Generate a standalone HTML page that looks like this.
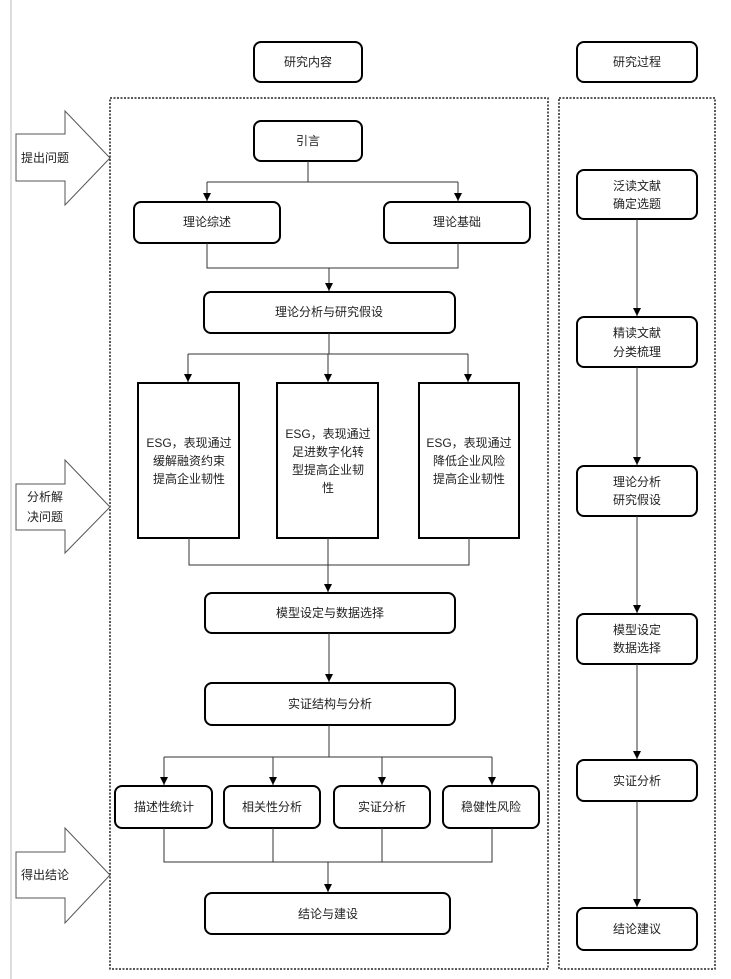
<!DOCTYPE html>
<html><head><meta charset="utf-8"><style>
html,body{margin:0;padding:0;background:#fff;}
svg{display:block;}
text{font-family:"Liberation Sans","Noto Sans CJK SC",sans-serif;font-size:12px;fill:#222;text-anchor:middle;dominant-baseline:central;}
.b{fill:#fff;stroke:#000;stroke-width:2;}
.l{fill:none;stroke:#333;stroke-width:1;}
.d{fill:none;stroke:#222;stroke-width:1.5;stroke-dasharray:2,1.5;}
.ar{fill:#fff;stroke:#555;stroke-width:1;}
</style></head><body>
<svg width="731" height="979" viewBox="0 0 731 979" xmlns="http://www.w3.org/2000/svg">
<defs><marker id="a" markerWidth="8" markerHeight="8" refX="8" refY="4" orient="auto" markerUnits="userSpaceOnUse"><path d="M0,0 L8,4 L0,8 Z" fill="#000"/></marker></defs>
<line x1="11" y1="0" x2="11" y2="979" stroke="#bbb" stroke-width="1"/>
<rect class="b" x="254" y="42" width="108" height="40" rx="7"/><text x="308" y="62">研究内容</text>
<rect class="b" x="577" y="42" width="120" height="40" rx="7"/><text x="637" y="62">研究过程</text>
<rect class="d" x="110" y="98" width="438" height="871"/>
<rect class="d" x="559" y="98" width="156" height="871"/>
<path class="ar" d="M16,134 H65 V111 L110,158 L65,205 V181 H16 Z"/><text x="45" y="158">提出问题</text>
<path class="ar" d="M16,484 H65 V460 L110,507 L65,553 V530 H16 Z"/><text x="45" y="497">分析解</text><text x="45" y="517">决问题</text>
<path class="ar" d="M16,852 H65 V828 L110,875 L65,923 V898 H16 Z"/><text x="45" y="875">得出结论</text>
<rect class="b" x="254" y="121" width="108" height="40" rx="7"/><text x="308" y="141">引言</text>
<path class="l" d="M308,161 V182 M207,182 H458"/>
<line class="l" x1="207" y1="182" x2="207" y2="201" marker-end="url(#a)"/>
<line class="l" x1="458" y1="182" x2="458" y2="201" marker-end="url(#a)"/>
<rect class="b" x="134" y="202" width="146" height="41" rx="7"/><text x="207" y="222">理论综述</text>
<rect class="b" x="384" y="202" width="146" height="41" rx="7"/><text x="457" y="222">理论基础</text>
<path class="l" d="M207,243 V268 H458 V243"/>
<line class="l" x1="329" y1="268" x2="329" y2="291" marker-end="url(#a)"/>
<rect class="b" x="204" y="292" width="251" height="41" rx="7"/><text x="329" y="312">理论分析与研究假设</text>
<path class="l" d="M329,333 V354 M188,354 H468"/>
<line class="l" x1="188" y1="354" x2="188" y2="382" marker-end="url(#a)"/>
<line class="l" x1="328" y1="354" x2="328" y2="382" marker-end="url(#a)"/>
<line class="l" x1="468" y1="354" x2="468" y2="382" marker-end="url(#a)"/>
<rect class="b" x="138" y="383" width="101" height="155"/>
<text x="189" y="443">ESG，表现通过</text><text x="189" y="461">缓解融资约束</text><text x="189" y="479">提高企业韧性</text>
<rect class="b" x="277" y="383" width="101" height="155"/>
<text x="328" y="434">ESG，表现通过</text><text x="328" y="452">足进数字化转</text><text x="328" y="470">型提高企业韧</text><text x="328" y="488">性</text>
<rect class="b" x="419" y="383" width="100" height="155"/>
<text x="469" y="443">ESG，表现通过</text><text x="469" y="461">降低企业风险</text><text x="469" y="479">提高企业韧性</text>
<path class="l" d="M189,538 V565 H469 V538"/>
<line class="l" x1="328" y1="538" x2="328" y2="592" marker-end="url(#a)"/>
<rect class="b" x="205" y="593" width="250" height="40" rx="7"/><text x="330" y="613">模型设定与数据选择</text>
<line class="l" x1="329" y1="633" x2="329" y2="682" marker-end="url(#a)"/>
<rect class="b" x="205" y="683" width="250" height="42" rx="7"/><text x="330" y="704">实证结构与分析</text>
<path class="l" d="M329,725 V757 M164,757 H492"/>
<line class="l" x1="164" y1="757" x2="164" y2="785" marker-end="url(#a)"/>
<line class="l" x1="273" y1="757" x2="273" y2="785" marker-end="url(#a)"/>
<line class="l" x1="382" y1="757" x2="382" y2="785" marker-end="url(#a)"/>
<line class="l" x1="492" y1="757" x2="492" y2="785" marker-end="url(#a)"/>
<rect class="b" x="115" y="786" width="97" height="42" rx="7"/><text x="164" y="807">描述性统计</text>
<rect class="b" x="224" y="786" width="96" height="42" rx="7"/><text x="272" y="807">相关性分析</text>
<rect class="b" x="334" y="786" width="96" height="42" rx="7"/><text x="382" y="807">实证分析</text>
<rect class="b" x="443" y="786" width="96" height="42" rx="7"/><text x="491" y="807">稳健性风险</text>
<path class="l" d="M164,828 V862 H492 V828 M273,828 V862 M382,828 V862"/>
<line class="l" x1="328" y1="862" x2="328" y2="892" marker-end="url(#a)"/>
<rect class="b" x="205" y="893" width="245" height="41" rx="7"/><text x="328" y="914">结论与建设</text>
<rect class="b" x="577" y="170" width="120" height="49" rx="7"/><text x="637" y="186">泛读文献</text><text x="637" y="204">确定选题</text>
<line class="l" x1="637" y1="219" x2="637" y2="316" marker-end="url(#a)"/>
<rect class="b" x="577" y="317" width="120" height="50" rx="7"/><text x="637" y="333">精读文献</text><text x="637" y="352">分类梳理</text>
<line class="l" x1="637" y1="367" x2="637" y2="465" marker-end="url(#a)"/>
<rect class="b" x="577" y="466" width="120" height="50" rx="7"/><text x="637" y="482">理论分析</text><text x="637" y="500">研究假设</text>
<line class="l" x1="637" y1="516" x2="637" y2="613" marker-end="url(#a)"/>
<rect class="b" x="577" y="614" width="120" height="50" rx="7"/><text x="637" y="630">模型设定</text><text x="637" y="648">数据选择</text>
<line class="l" x1="637" y1="664" x2="637" y2="759" marker-end="url(#a)"/>
<rect class="b" x="577" y="760" width="120" height="41" rx="7"/><text x="637" y="781">实证分析</text>
<line class="l" x1="637" y1="801" x2="637" y2="907" marker-end="url(#a)"/>
<rect class="b" x="577" y="908" width="120" height="42" rx="7"/><text x="637" y="929">结论建议</text>
</svg>
</body></html>
